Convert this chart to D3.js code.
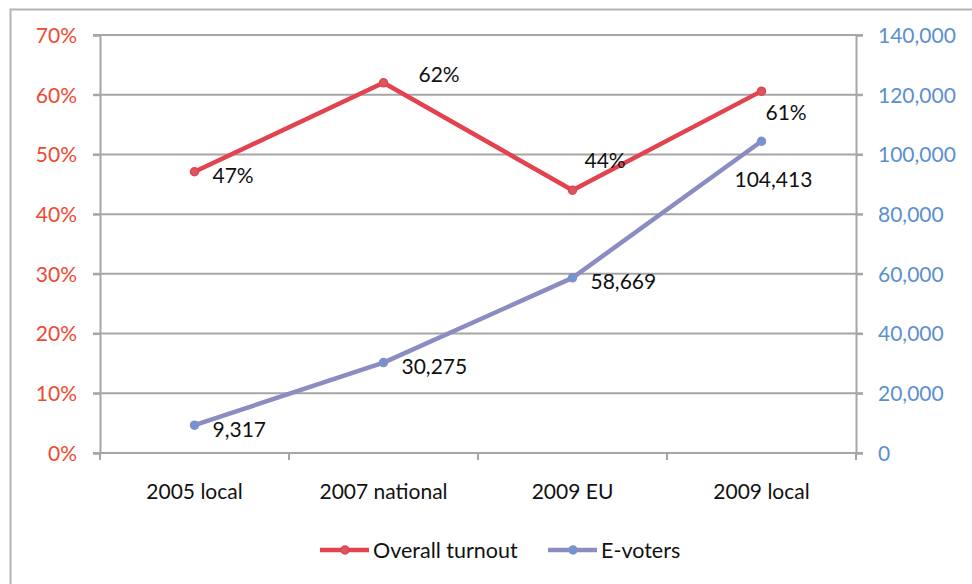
<!DOCTYPE html>
<html>
<head>
<meta charset="utf-8">
<script src="https://cdn.jsdelivr.net/npm/d3@7"></script>
<style>
  body { margin: 0; background: #fff; }
  svg text { font-family: Lato, "Open Sans", sans-serif; }
</style>
</head>
<body>
<div id="chart"></div>
<script>
var categories = ['2005 local', '2007 national', '2009 EU', '2009 local'];
var turnout = [0.471, 0.62, 0.44, 0.606];
var eVoters = [9317, 30275, 58669, 104413];
var pctTicks = [0, 0.1, 0.2, 0.3, 0.4, 0.5, 0.6, 0.7];
var countTicks = [0, 20000, 40000, 60000, 80000, 100000, 120000, 140000];
var seriesNames = ['Overall turnout', 'E-voters'];

// label placement relative to each point (dx = text start, dy = text middle)
var turnoutLabelOff = [[18, 4], [35, -8], [12, -30], [4, 22]];
var votersLabelOff = [[18, 4], [18, 4], [18, 4], [-27, 38]];

var width = 972, height = 584;
var margin = { top: 35, right: 116, bottom: 131, left: 100 };
var fontSize = '21px';

var svg = d3.select('#chart').append('svg')
    .attr('width', width)
    .attr('height', height);

// outer chart frame
svg.append('rect')
    .attr('x', 10.5).attr('y', 9.5)
    .attr('width', width + 20).attr('height', height + 20)
    .attr('fill', 'none').attr('stroke', '#b4b4b4').attr('stroke-width', 2);

var x = d3.scaleBand().domain(categories)
    .range([margin.left, width - margin.right]);
var yL = d3.scaleLinear().domain([0, 0.7])
    .range([height - margin.bottom, margin.top]);
var yR = d3.scaleLinear().domain([0, 140000])
    .range([height - margin.bottom, margin.top]);

var grid = '#a6a6a6';

// gridlines
svg.append('g').selectAll('line').data(pctTicks).enter().append('line')
    .attr('x1', margin.left - 7).attr('x2', width - margin.right + 7)
    .attr('y1', function (d) { return yL(d); })
    .attr('y2', function (d) { return yL(d); })
    .attr('stroke', grid).attr('stroke-width', 2);

// left axis
var yAxisL = d3.axisLeft(yL).tickValues(pctTicks).tickFormat(d3.format('.0%')).tickSize(7);
var gL = svg.append('g').attr('transform', 'translate(' + margin.left + ',0)').call(yAxisL);
gL.select('.domain').attr('stroke', grid).attr('stroke-width', 2);
gL.selectAll('.tick line').attr('stroke', grid).attr('stroke-width', 2);
gL.selectAll('.tick text').attr('x', -23).attr('fill', '#ee4a32')
    .style('font-size', fontSize).attr('dy', '0.35em');

// right axis
var yAxisR = d3.axisRight(yR).tickValues(countTicks).tickFormat(d3.format(',')).tickSize(7);
var gR = svg.append('g').attr('transform', 'translate(' + (width - margin.right) + ',0)').call(yAxisR);
gR.select('.domain').attr('stroke', grid).attr('stroke-width', 2);
gR.selectAll('.tick line').attr('stroke', grid).attr('stroke-width', 2);
gR.selectAll('.tick text').attr('x', 22).attr('fill', '#5b8fd0')
    .style('font-size', fontSize).attr('dy', '0.35em');

// bottom axis
var gB = svg.append('g').attr('transform', 'translate(0,' + (height - margin.bottom) + ')');
gB.append('line').attr('x1', margin.left).attr('x2', width - margin.right)
    .attr('stroke', grid).attr('stroke-width', 2);
var edges = categories.map(function (c) { return x(c); }).concat([width - margin.right]);
gB.selectAll('.cat-tick').data(edges).enter().append('line')
    .attr('class', 'cat-tick')
    .attr('x1', function (d) { return d; }).attr('x2', function (d) { return d; })
    .attr('y1', 0).attr('y2', 7)
    .attr('stroke', grid).attr('stroke-width', 2);
gB.selectAll('text').data(categories).enter().append('text')
    .attr('x', function (d) { return x(d) + x.bandwidth() / 2; })
    .attr('y', 39)
    .attr('text-anchor', 'middle').attr('dy', '0.35em')
    .style('font-size', fontSize).attr('fill', '#111')
    .text(function (d) { return d; });

var cx = function (d, i) { return x(categories[i]) + x.bandwidth() / 2; };

var series = [
  { name: seriesNames[0], values: turnout, scale: yL, color: '#e2434f', dot: '#d9575f',
    fmt: d3.format('.0%'), off: turnoutLabelOff },
  { name: seriesNames[1], values: eVoters, scale: yR, color: '#8b8dc2', dot: '#6f96d4',
    fmt: d3.format(','), off: votersLabelOff }
];

series.forEach(function (s) {
  var line = d3.line()
      .x(function (d, i) { return cx(d, i); })
      .y(function (d) { return s.scale(d); });
  svg.append('path').datum(s.values)
      .attr('d', line).attr('fill', 'none')
      .attr('stroke', s.color).attr('stroke-width', 4.5)
      .attr('stroke-linejoin', 'round');
  svg.append('g').selectAll('circle').data(s.values).enter().append('circle')
      .attr('cx', cx).attr('cy', function (d) { return s.scale(d); })
      .attr('r', 4).attr('fill', s.dot).attr('stroke', s.color).attr('stroke-width', 1.5);
  svg.append('g').selectAll('text').data(s.values).enter().append('text')
      .attr('x', function (d, i) { return cx(d, i) + s.off[i][0]; })
      .attr('y', function (d, i) { return s.scale(d) + s.off[i][1]; })
      .attr('dy', '0.35em')
      .style('font-size', fontSize).attr('fill', '#111')
      .text(function (d) { return s.fmt(d); });
});

// legend
var legendX = [320, 548];
var lg = svg.append('g').selectAll('g').data(series).enter().append('g')
    .attr('transform', function (d, i) { return 'translate(' + legendX[i] + ',550)'; });
lg.append('line').attr('x1', 0).attr('x2', 49)
    .attr('stroke', function (d) { return d.color; }).attr('stroke-width', 4.5);
lg.append('circle').attr('cx', 25).attr('r', 4)
    .attr('fill', function (d) { return d.dot; })
    .attr('stroke', function (d) { return d.color; }).attr('stroke-width', 1.5);
lg.append('text').attr('x', 53).attr('dy', '0.35em')
    .style('font-size', '21.5px').attr('fill', '#111')
    .text(function (d) { return d.name; });
</script>
</body>
</html>
